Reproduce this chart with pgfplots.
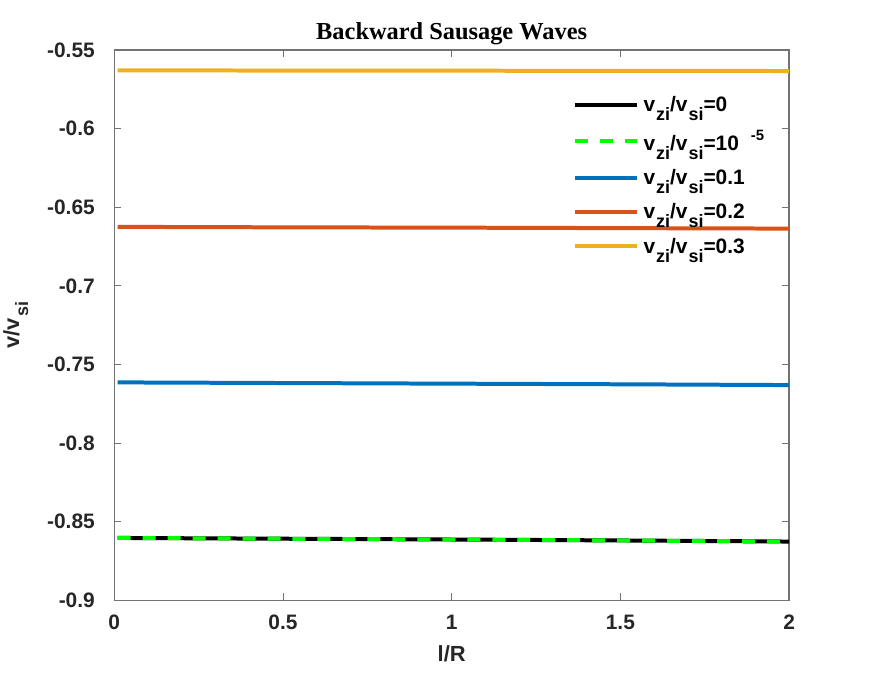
\documentclass[border=0pt]{standalone}
\usepackage{pgfplots}
\pgfplotsset{compat=1.18}
\usepackage{fontspec}
\setmainfont{Liberation Sans}
\newfontfamily\titlefont{Liberation Serif}
\definecolor{mblue}{rgb}{0,0.447,0.741}
\definecolor{morange}{rgb}{0.85,0.325,0.098}
\definecolor{myellow}{rgb}{0.929,0.694,0.125}
\definecolor{axgray}{rgb}{0.45,0.45,0.45}
\newcommand{\sub}[1]{\hspace{1bp}\raisebox{-9bp}{\fontsize{18}{18}\selectfont #1}}
\newcommand{\vv}[1]{v\sub{zi}/v\sub{si}=#1}
\begin{document}
\begin{tikzpicture}
\begin{axis}[
  scale only axis,
  width=675.5bp, height=551bp,
  xmin=0, xmax=2, ymin=-0.9, ymax=-0.55,
  xtick={0,0.5,...,2},
  ytick={-0.9,-0.85,-0.8,-0.75,-0.7,-0.65,-0.6,-0.55},
  yticklabels={-0.9,-0.85,-0.8,-0.75,-0.7,-0.65,-0.6,-0.55},
  xticklabels={0,0.5,1,1.5,2},
  tick align=inside,
  major tick length=7bp,
  axis line style={axgray, line width=1.2bp},
  every tick/.style={axgray, line width=1bp},
  tick label style={font=\fontsize{21}{21}\selectfont\bfseries, text=black!85},
  xticklabel style={yshift=-11bp},
  yticklabel style={xshift=-16bp},
  title={\titlefont\bfseries\fontsize{24.5}{24.5}\selectfont Backward Sausage Waves},
  title style={yshift=-4bp},
  xlabel={\fontsize{22}{22}\selectfont\bfseries l/R},
  xlabel style={yshift=-9bp, text=black!85},
  ylabel={\fontsize{22}{22}\selectfont\bfseries v/v\sub{si}},
  ylabel style={yshift=12bp, text=black!85},
  legend style={draw=none, fill=none, at={(0.679,0.918)}, anchor=north west,
    font=\fontsize{21}{21}\selectfont\bfseries,
    row sep=15.5bp,
    inner sep=0pt,
    /tikz/every odd column/.append style={column sep=4bp},
    nodes={inner sep=1bp}},
  legend cell align=left,
  legend image code/.code={\draw[#1] (0bp,0bp) -- (62bp,0bp);},
]
\addplot[black, line width=4bp] coordinates {(0.01,-0.8603) (0.5,-0.8608) (1,-0.8613) (1.5,-0.8619) (2,-0.8626)};
\addlegendentry{\vv{0}}
\addplot[green, line width=4bp, dash pattern=on 13bp off 12bp] coordinates {(0.01,-0.8603) (0.5,-0.8608) (1,-0.8613) (1.5,-0.8619) (2,-0.8626)};
\addlegendentry{\vv{10}\hspace{12bp}\raisebox{10bp}{\fontsize{15}{15}\selectfont -5}}
\addplot[mblue, line width=4bp] coordinates {(0.01,-0.7614) (0.5,-0.7618) (1,-0.7622) (1.5,-0.7626) (2,-0.7631)};
\addlegendentry{\vv{0.1}}
\addplot[morange, line width=4bp] coordinates {(0.01,-0.6625) (0.5,-0.6628) (1,-0.6630) (1.5,-0.6633) (2,-0.6636)};
\addlegendentry{\vv{0.2}}
\addplot[myellow, line width=4bp] coordinates {(0.01,-0.5630) (0.5,-0.5631) (1,-0.5632) (1.5,-0.5633) (2,-0.5634)};
\addlegendentry{\vv{0.3}}
\end{axis}
\path (current axis.south west) ++(-113.5bp,-75bp) coordinate (bl);
\path (current axis.north east) ++(83bp,50bp) coordinate (tr);
\path[use as bounding box] (bl) rectangle (tr);
\end{tikzpicture}
\end{document}
